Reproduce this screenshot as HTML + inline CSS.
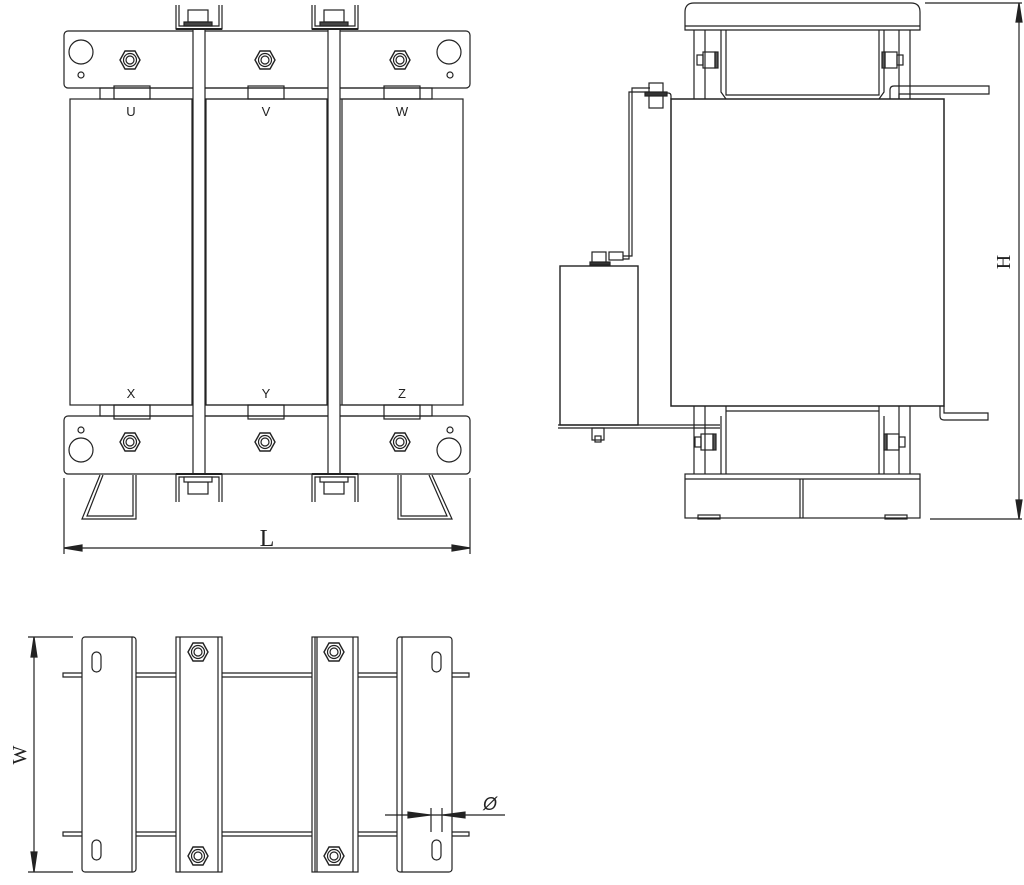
<!DOCTYPE html>
<html><head><meta charset="utf-8"><style>html,body{margin:0;padding:0;background:#fff}svg{display:block}</style></head>
<body>
<svg width="1024" height="885" viewBox="0 0 1024 885" xmlns="http://www.w3.org/2000/svg" fill="none" stroke="#222" stroke-width="1.2" font-family="Liberation Sans, sans-serif">
<defs>
<g id="nut"><polygon points="-10,0 -5,-9 5,-9 10,0 5,9 -5,9" stroke-width="1.4"/><circle r="6.5"/><circle r="4"/></g>
<g id="ubr"><path d="M0,0 V24 H46 V0 M3,0 V21 H43 V0"/><rect x="12" y="5" width="20" height="12"/><rect x="8" y="17" width="28" height="4" fill="#444"/><path d="M0,24 H46" stroke-width="2"/></g>
<g id="ubrB"><path d="M0,28 V0 H46 V28 M3,28 V3 H43 V28"/><rect x="12" y="8" width="20" height="12"/><rect x="8" y="3" width="28" height="5" fill="#fff"/><path d="M0,0 H46" stroke-width="2"/></g>
<g id="sbolt"><rect x="-6" y="-8" width="12" height="16"/><rect x="-12" y="-5" width="6" height="10"/><rect x="6" y="-8" width="3" height="16" fill="#555"/></g>
</defs>

<!-- FRONT VIEW -->
<rect x="64" y="31" width="406" height="57" rx="4"/>
<circle cx="81" cy="52" r="12"/><circle cx="449" cy="52" r="12"/>
<circle cx="81" cy="75" r="3"/><circle cx="450" cy="75" r="3"/>
<use href="#nut" x="130" y="60"/><use href="#nut" x="265" y="60"/><use href="#nut" x="400" y="60"/>
<rect x="100" y="88" width="332" height="11"/>
<rect x="114" y="86" width="36" height="13"/><rect x="248" y="86" width="36" height="13"/><rect x="384" y="86" width="36" height="13"/>
<rect x="70" y="99" width="122" height="306"/><rect x="206" y="99" width="121" height="306"/><rect x="342" y="99" width="121" height="306"/>
<g font-size="13" fill="#222" stroke="none" text-anchor="middle">
<text x="131" y="116">U</text><text x="266" y="116">V</text><text x="402" y="116">W</text>
<text x="131" y="398">X</text><text x="266" y="398">Y</text><text x="402" y="398">Z</text></g>
<rect x="100" y="405" width="332" height="11"/>
<rect x="114" y="405" width="36" height="14"/><rect x="248" y="405" width="36" height="14"/><rect x="384" y="405" width="36" height="14"/>
<rect x="64" y="416" width="406" height="58" rx="4"/>
<circle cx="81" cy="450" r="12"/><circle cx="449" cy="450" r="12"/>
<circle cx="81" cy="430" r="3"/><circle cx="450" cy="430" r="3"/>
<use href="#nut" x="130" y="442"/><use href="#nut" x="265" y="442"/><use href="#nut" x="400" y="442"/>
<rect x="193" y="29" width="12" height="445" fill="#fff"/><rect x="328" y="29" width="12" height="445" fill="#fff"/>
<use href="#ubr" x="176" y="5"/><use href="#ubr" x="312" y="5"/>
<use href="#ubrB" x="176" y="474"/><use href="#ubrB" x="312" y="474"/>
<path d="M100,475 L82,519 H136 V475 M103,475 L87,516 H133 V475"/>
<path d="M432,475 L452,519 H398 V475 M429,475 L447,516 H401 V475"/>
<path d="M64,478 V554 M470,478 V554 M64,548 H470"/>
<polygon points="64,548 82,545 82,551" fill="#222"/><polygon points="470,548 452,545 452,551" fill="#222"/>
<text x="267" y="546" font-family="Liberation Serif, serif" font-size="24" fill="#222" stroke="none" text-anchor="middle">L</text>

<!-- SIDE VIEW -->
<path d="M685,30 V12 Q685,3 694,3 H911 Q920,3 920,12 V30 Z"/><path d="M685,26 H920"/>
<path d="M694,30 V99 M705,30 V99 M721,30 V92 L726,99 M726,30 V95 H879 V30 M879,99 L884,92 V30 M899,30 V99 M910,30 V99"/>
<use href="#sbolt" x="709" y="60"/><use href="#sbolt" x="891" y="60" transform="translate(1782,0) scale(-1,1)"/>
<path d="M890,99 V90 Q890,86 894,86 H989 V94 H899 V99"/>
<rect x="671" y="99" width="273" height="307" stroke-width="1.5"/>
<path d="M671,99 V96 Q671,93 668,93 H650"/>
<rect x="649" y="83" width="14" height="25"/><rect x="645" y="92" width="22" height="4" fill="#333"/>
<path d="M650,88 H632 V256 H623 M650,92 H629 V259 H623"/>
<rect x="609" y="252" width="14" height="8"/>
<rect x="592" y="252" width="14" height="12"/><rect x="590" y="262" width="20" height="3" fill="#333"/>
<rect x="560" y="266" width="78" height="159" stroke-width="1.4"/>
<path d="M558,425 H720 M558,428 H720"/>
<rect x="592" y="428" width="12" height="12"/><rect x="595" y="436" width="6" height="6"/>
<path d="M694,406 V474 M705,406 V474 M721,416 V474 M726,406 V474 M726,411 H879 M879,406 V474 M884,416 V474 M899,406 V474 M910,406 V474"/>
<use href="#sbolt" x="707" y="442"/><use href="#sbolt" x="893" y="442" transform="translate(1786,0) scale(-1,1)"/>
<path d="M940,406 V416 Q940,420 944,420 H988 V413 H944 V406"/>
<rect x="685" y="474" width="235" height="44"/><path d="M685,479 H920 M800,479 V518 M803,479 V518"/>
<rect x="698" y="515" width="22" height="4"/><rect x="885" y="515" width="22" height="4"/>
<path d="M925,3 H1022 M930,519 H1022 M1019,3 V519"/>
<polygon points="1019,3 1016,22 1022,22" fill="#222"/><polygon points="1019,519 1016,500 1022,500" fill="#222"/>
<text transform="translate(1010,262) rotate(-90)" font-family="Liberation Serif, serif" font-size="20" fill="#222" stroke="none" text-anchor="middle">H</text>

<!-- TOP VIEW -->
<path d="M63,673 H469 V677 H63 Z M63,832 H469 V836 H63 Z" fill="#fff"/>
<rect x="82" y="637" width="54" height="235" rx="3" fill="#fff"/><path d="M132,637 V872"/>
<rect x="176" y="637" width="46" height="235" fill="#fff"/><path d="M180,637 V872 M218,637 V872"/>
<rect x="312" y="637" width="46" height="235" fill="#fff"/><path d="M315,637 V872 M317,637 V872 M353,637 V872"/>
<rect x="397" y="637" width="55" height="235" rx="3" fill="#fff"/><path d="M402,637 V872"/>
<rect x="92" y="652" width="9" height="20" rx="4.5"/><rect x="92" y="840" width="9" height="20" rx="4.5"/>
<rect x="432" y="652" width="9" height="20" rx="4.5"/><rect x="432" y="840" width="9" height="20" rx="4.5"/>
<use href="#nut" x="198" y="652"/><use href="#nut" x="198" y="856"/><use href="#nut" x="334" y="652"/><use href="#nut" x="334" y="856"/>
<path d="M28,637 H73 M28,872 H73 M34,637 V872"/>
<polygon points="34,637 31,657 37,657" fill="#222"/><polygon points="34,872 31,852 37,852" fill="#222"/>
<text transform="translate(26,755) rotate(-90)" font-family="Liberation Serif, serif" font-size="20" fill="#222" stroke="none" text-anchor="middle">W</text>
<path d="M385,815 H505 M431,808 V832 M442,808 V832"/>
<polygon points="430,815 408,812 408,818" fill="#222"/><polygon points="443,815 465,812 465,818" fill="#222"/>
<text x="490" y="810" font-size="18" fill="#222" stroke="none" text-anchor="middle" font-style="italic">Ø</text>
</svg>
</body></html>
